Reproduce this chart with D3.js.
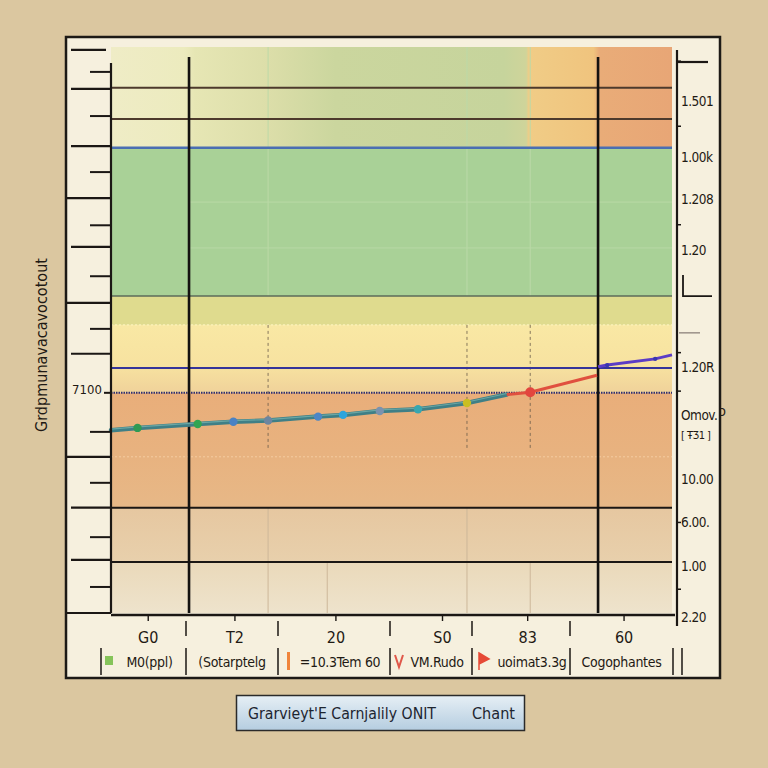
<!DOCTYPE html>
<html>
<head>
<meta charset="utf-8">
<script src="https://cdn.jsdelivr.net/npm/d3@7"></script>
<style>
  html,body{margin:0;padding:0;background:#dbc7a0;}
  svg{display:block;}
  text{font-family:"Liberation Sans Narrow","DejaVu Sans Condensed","Liberation Sans",Arial,sans-serif;fill:#1f1a14;}
</style>
</head>
<body>
<div id="chart"></div>
<script>
// ---- values (x: 0..110, y: 0..100) ----
const xTickValues  = [7.3, 24.3, 44.1, 65.0, 81.7, 100.6];
const xTickLabels  = ['G0', 'T2', '20', 'S0', '83', '60'];
const legendLabels = ['M0(ppl)', '(Sotarptelg', '=10.3Tem 60', 'VM.Rudo', 'uoimat3.3g', 'Cogophantes'];
const legendKinds  = ['square', 'none', 'bar', 'v', 'flag', 'none'];
const legendColors = ['#86c45a', null, '#f0843a', '#e0584a', '#e64a36', null];

const leftMajorTicks = [99.5, 92.6, 82.5, 73.3, 64.7, 54.8, 45.8, 27.6, 18.6, 9.4, 0];
const leftMinorTicks = [95.6, 87.8, 77.9, 68.5, 59.5, 50.2, 38.9, 32.0, 23.0, 13.4, 4.6];
const leftLabelValue = 38.9;
const leftLabel = '7100';

const rightTickValues = [90.5, 80.6, 73.1, 64.1, 43.5, 35.0, 31.6, 23.7, 16.1, 8.3, -0.7];
const rightTickLabels = ['1.501', '1.00k', '1.208', '1.20', '1.20R', 'Omov.', '[ ŦƷ1 ]', '10.00', '6.00.', '1.00', '2.20'];
const rightMinorTicks = [97.5, 86.0, 68.6, 46.0, 39.2, 16.0, 4.2];

// background bands (top edge, bottom edge)
const bandTops    = [100, 82.2, 56.0, 50.9, 38.9, 18.6, 9.0];
const bandBottoms = [82.2, 56.0, 50.9, 38.9, 18.6, 9.0, 0];

// horizontal reference lines
const hLineValues = [92.8, 87.3, 82.2, 56.0, 43.3, 38.9, 18.6, 9.0];
// vertical divider lines
const vLineValues = [15.3, 95.5];
const vGuideValues = [30.8, 69.8, 82.2];

// the series, split where its colour changes
const tealX = [0, 5.2, 17, 24, 30.8, 40.6, 45.5, 52.7, 60.2, 69.8, 77.6];
const tealY = [32.3, 32.7, 33.4, 33.8, 34.0, 34.7, 35.0, 35.7, 36.0, 37.1, 38.6];
const redX  = [77.6, 82.2, 95.3];
const redY  = [38.6, 39.0, 42.0];
const blueX = [95.5, 97.3, 106.7, 110];
const blueY = [43.5, 43.8, 44.9, 45.6];
const markerX = [5.2, 17, 24, 30.8, 40.6, 45.5, 52.7, 60.2, 69.8, 82.2, 97.3, 106.7];
const markerY = [32.7, 33.4, 33.8, 34.0, 34.7, 35.0, 35.7, 36.0, 37.1, 39.0, 43.8, 44.9];
const markerColors = ['#2f9a54', '#32a552', '#4a82c4', '#6c86a0', '#4b86c6', '#2ea4dc',
                      '#7a92ae', '#38a6b0', '#c9be22', '#e2453e', '#3a36b0', '#3a36b0'];

const yLabel = 'Grdpmunavacavocotout';
const titleA = "Grarvieyt'E Carnjalily ONIT";
const titleB = 'Chant';

// ---- layout ----
const W = 768, H = 768;
const plot = {left: 111, right: 672, top: 47, bottom: 613};

const svg = d3.select('#chart').append('svg').attr('width', W).attr('height', H);
const x = d3.scaleLinear().domain([0, 110]).range([plot.left, plot.right]);
const y = d3.scaleLinear().domain([0, 100]).range([plot.bottom, plot.top]);

const defs = svg.append('defs');
function grad(id, stops, vertical){
  const g = defs.append('linearGradient').attr('id', id)
    .attr('x1', 0).attr('y1', 0).attr('x2', vertical ? 0 : 1).attr('y2', vertical ? 1 : 0);
  stops.forEach(s => g.append('stop').attr('offset', s[0]).attr('stop-color', s[1]));
  return `url(#${id})`;
}
const bandFills = [
  grad('gTop', [[0, '#efecc6'], [0.13, '#ecebbe'], [0.15, '#e6e6b4'], [0.28, '#dcdea9'],
                [0.4, '#cbd69e'], [0.7, '#c6d49c'], [0.74, '#cfd49a'], [0.745, '#f0cc86'],
                [0.86, '#f0c47e'], [0.87, '#e9ac78'], [1, '#e8a676']], false),
  '#a9d197',
  '#dfdb8e',
  grad('gYel', [[0, '#f9e8a4'], [0.6, '#f7e2a0'], [1, '#f0d29a']], true),
  grad('gOra', [[0, '#e9ae7a'], [0.5, '#e8b27f'], [1, '#e7b887']], true),
  grad('gTan', [[0, '#e6c7a0'], [1, '#e8d0ac']], true),
  grad('gCre', [[0, '#ead9ba'], [1, '#eee3cc']], true)
];
const titleFill = grad('gTitle', [[0, '#e6eff5'], [1, '#b5cde0']], true);

// outer panel
svg.append('rect').attr('x', 66).attr('y', 37).attr('width', 654).attr('height', 641)
  .attr('fill', '#f6f0de').attr('stroke', '#1d1a16').attr('stroke-width', 2.5);

// bands
svg.append('g').selectAll('rect').data(bandTops).join('rect')
  .attr('x', plot.left).attr('width', plot.right - plot.left)
  .attr('y', d => y(d)).attr('height', (d, i) => y(bandBottoms[i]) - y(d))
  .attr('fill', (d, i) => bandFills[i]);

// faint grid inside green band and lower area
const faint = svg.append('g').attr('stroke-width', 1);
faint.selectAll('line.gv').data(vGuideValues).join('line')
  .attr('x1', d => x(d)).attr('x2', d => x(d)).attr('y1', y(100)).attr('y2', y(56))
  .attr('stroke', '#bcd9a8');
[72.6, 64.5].forEach(v => faint.append('line')
  .attr('x1', x(15.3)).attr('x2', plot.right).attr('y1', y(v)).attr('y2', y(v))
  .attr('stroke', '#b9d9a6'));
faint.append('line').attr('x1', plot.left).attr('x2', plot.right).attr('y1', y(50.9)).attr('y2', y(50.9))
  .attr('stroke', '#fff6c0').attr('stroke-dasharray', '2,2');
faint.append('line').attr('x1', plot.left).attr('x2', plot.right).attr('y1', y(27.6)).attr('y2', y(27.6))
  .attr('stroke', '#f4cca0').attr('stroke-dasharray', '2,2');
faint.selectAll('line.gd').data(vGuideValues).join('line')
  .attr('x1', d => x(d)).attr('x2', d => x(d)).attr('y1', y(50.9)).attr('y2', y(28.8))
  .attr('stroke', '#6a5a4a').attr('stroke-dasharray', '3,3').attr('stroke-width', 0.8);
[30.8, 42.4, 69.8, 82.2].forEach(v => faint.append('line')
  .attr('x1', x(v)).attr('x2', x(v)).attr('y1', y(v === 30.8 || v === 69.8 ? 18.6 : 9)).attr('y2', y(0))
  .attr('stroke', '#cdb79a'));

// horizontal reference lines
const hStyle = [
  {c: '#4d3a2c', w: 2}, {c: '#4d3a2c', w: 2}, {c: '#4a6eb2', w: 2.5}, {c: '#5d6b5a', w: 1.5},
  {c: '#35349a', w: 2}, {c: '#2f2f70', w: 2, dash: '1.5,1'}, {c: '#1b1714', w: 2}, {c: '#1b1714', w: 2}
];
svg.append('g').selectAll('line').data(hLineValues).join('line')
  .attr('x1', plot.left).attr('x2', plot.right)
  .attr('y1', d => y(d)).attr('y2', d => y(d))
  .attr('stroke', (d, i) => hStyle[i].c).attr('stroke-width', (d, i) => hStyle[i].w)
  .attr('stroke-dasharray', (d, i) => hStyle[i].dash || null);

// vertical dividers
svg.append('g').selectAll('line').data(vLineValues).join('line')
  .attr('x1', d => x(d)).attr('x2', d => x(d)).attr('y1', plot.top + 10).attr('y2', plot.bottom)
  .attr('stroke', '#141210').attr('stroke-width', 2.6);

// series
const line = d3.line().x(d => x(d[0])).y(d => y(d[1]));
const zip = (a, b) => a.map((v, i) => [v, b[i]]);
svg.append('path').datum(zip(tealX, tealY)).attr('d', line)
  .attr('fill', 'none').attr('stroke', '#3f7f86').attr('stroke-width', 4.5).attr('stroke-linecap', 'round');
svg.append('path').datum(zip(tealX, tealY)).attr('d', line).attr('transform', 'translate(0,-1)')
  .attr('fill', 'none').attr('stroke', '#6aa7a4').attr('stroke-width', 1.2);
svg.append('path').datum(zip(redX, redY)).attr('d', line)
  .attr('fill', 'none').attr('stroke', '#e0503f').attr('stroke-width', 3);
svg.append('path').datum(zip(blueX, blueY)).attr('d', line)
  .attr('fill', 'none').attr('stroke', '#5b3cc6').attr('stroke-width', 3);
svg.append('g').selectAll('circle').data(markerX).join('circle')
  .attr('cx', d => x(d)).attr('cy', (d, i) => y(markerY[i]))
  .attr('r', (d, i) => i >= 10 ? 2.2 : (i === 9 ? 5 : 4.2))
  .attr('fill', (d, i) => markerColors[i]);

// left axis
const la = svg.append('g').attr('stroke', '#1b1714');
la.append('line').attr('x1', plot.left).attr('x2', plot.left).attr('y1', 63).attr('y2', plot.bottom).attr('stroke-width', 2.2);
la.selectAll('line.mj').data(leftMajorTicks).join('line')
  .attr('x1', (d, i) => [3, 5, 7, 10].includes(i) ? 67 : 71).attr('x2', (d, i) => i === 0 ? 106 : plot.left)
  .attr('y1', d => y(d)).attr('y2', d => y(d)).attr('stroke-width', 2.2);
la.selectAll('line.mn').data(leftMinorTicks).join('line')
  .attr('x1', d => d === leftLabelValue ? 104 : 90).attr('x2', plot.left)
  .attr('y1', d => y(d)).attr('y2', d => y(d)).attr('stroke-width', 2);
svg.append('text').attr('x', 87).attr('y', y(leftLabelValue) + 1).attr('text-anchor', 'middle')
  .style('font-size', '13px').text(leftLabel);

// y label
svg.append('text').attr('transform', 'translate(47,345) rotate(-90)').attr('text-anchor', 'middle')
  .attr('textLength', 174).attr('lengthAdjust', 'spacingAndGlyphs')
  .style('font-size', '15px').text(yLabel);

// right axis
const ra = svg.append('g').attr('stroke', '#1b1714');
ra.append('line').attr('x1', 677).attr('x2', 677).attr('y1', 50).attr('y2', 626).attr('stroke-width', 2.2);
ra.append('line').attr('x1', 677).attr('x2', 708).attr('y1', 62).attr('y2', 62).attr('stroke-width', 2.2);
ra.append('path').attr('d', `M683,${y(59.7)}V${y(56)}H712`).attr('fill', 'none').attr('stroke-width', 1.8);
ra.append('line').attr('x1', 679).attr('x2', 700).attr('y1', y(49.5)).attr('y2', y(49.5)).attr('stroke', '#9a9088').attr('stroke-width', 1.5);
ra.selectAll('line.rt').data(rightMinorTicks).join('line')
  .attr('x1', 676).attr('x2', 681).attr('y1', d => y(d)).attr('y2', d => y(d)).attr('stroke-width', 1.5);
svg.append('g').selectAll('text').data(rightTickLabels).join('text')
  .attr('x', 681).attr('y', (d, i) => y(rightTickValues[i]) + 5)
  .style('font-size', (d, i) => i === 6 ? '11px' : '13.5px').style('letter-spacing', '-0.5px')
  .text(d => d);
svg.append('text').attr('x', 719).attr('y', 416).style('font-size', '14px').text('ↄ');

// x axis
const xa = svg.append('g').attr('stroke', '#1b1714');
xa.append('line').attr('x1', plot.left).attr('x2', 675).attr('y1', 615).attr('y2', 615).attr('stroke-width', 2.4);
xa.selectAll('line.xt').data(xTickValues).join('line')
  .attr('x1', d => x(d)).attr('x2', d => x(d)).attr('y1', 615).attr('y2', 621).attr('stroke-width', 1.4);
svg.append('g').selectAll('text').data(xTickLabels).join('text')
  .attr('x', (d, i) => x(xTickValues[i])).attr('y', 643).attr('text-anchor', 'middle')
  .style('font-size', '16px').text(d => d);

// legend cells under the axis
const cellEdges = [101, 186, 278, 390, 472, 570, 673];
const lg = svg.append('g');
lg.selectAll('line.sep').data(cellEdges.slice(1, -1)).join('line')
  .attr('x1', d => d).attr('x2', d => d).attr('y1', 621).attr('y2', 636)
  .attr('stroke', '#2a2520').attr('stroke-width', 1.6);
lg.selectAll('line.cell').data(cellEdges.concat([682])).join('line')
  .attr('x1', d => d).attr('x2', d => d).attr('y1', 648).attr('y2', 675)
  .attr('stroke', '#2a2520').attr('stroke-width', 1.6);
legendLabels.forEach((lab, i) => {
  const x0 = cellEdges[i], x1 = cellEdges[i + 1];
  const kind = legendKinds[i], col = legendColors[i];
  let tx = (x0 + x1) / 2;
  if(kind === 'square') lg.append('rect').attr('x', x0 + 4).attr('y', 656).attr('width', 8).attr('height', 9).attr('fill', col);
  if(kind === 'bar') lg.append('rect').attr('x', x0 + 9).attr('y', 652).attr('width', 3).attr('height', 18).attr('fill', col);
  if(kind === 'v') lg.append('path').attr('d', `M${x0 + 5},655L${x0 + 9},667L${x0 + 13},655`).attr('fill', 'none').attr('stroke', col).attr('stroke-width', 2);
  if(kind === 'flag') lg.append('path').attr('d', `M${x0 + 7},653V670M${x0 + 7},653L${x0 + 17},659L${x0 + 7},664Z`).attr('fill', col).attr('stroke', col).attr('stroke-width', 1.5);
  if(kind === 'flag') tx += 11; else if(kind !== 'none') tx += 6;
  lg.append('text').attr('x', tx).attr('y', 667).attr('text-anchor', 'middle')
    .style('font-size', '14px').style('letter-spacing', '-0.3px').text(lab);
});

// title box
svg.append('rect').attr('x', 236.5).attr('y', 695.5).attr('width', 288).attr('height', 35)
  .attr('fill', titleFill).attr('stroke', '#2a2a2a').attr('stroke-width', 1.5);
svg.append('text').attr('x', 248).attr('y', 719).attr('textLength', 188).attr('lengthAdjust', 'spacingAndGlyphs')
  .style('font-size', '15px').style('fill', '#1d2530').text(titleA);
svg.append('text').attr('x', 472).attr('y', 719).attr('textLength', 43).attr('lengthAdjust', 'spacingAndGlyphs')
  .style('font-size', '15px').style('fill', '#1d2530').text(titleB);
</script>
</body>
</html>
